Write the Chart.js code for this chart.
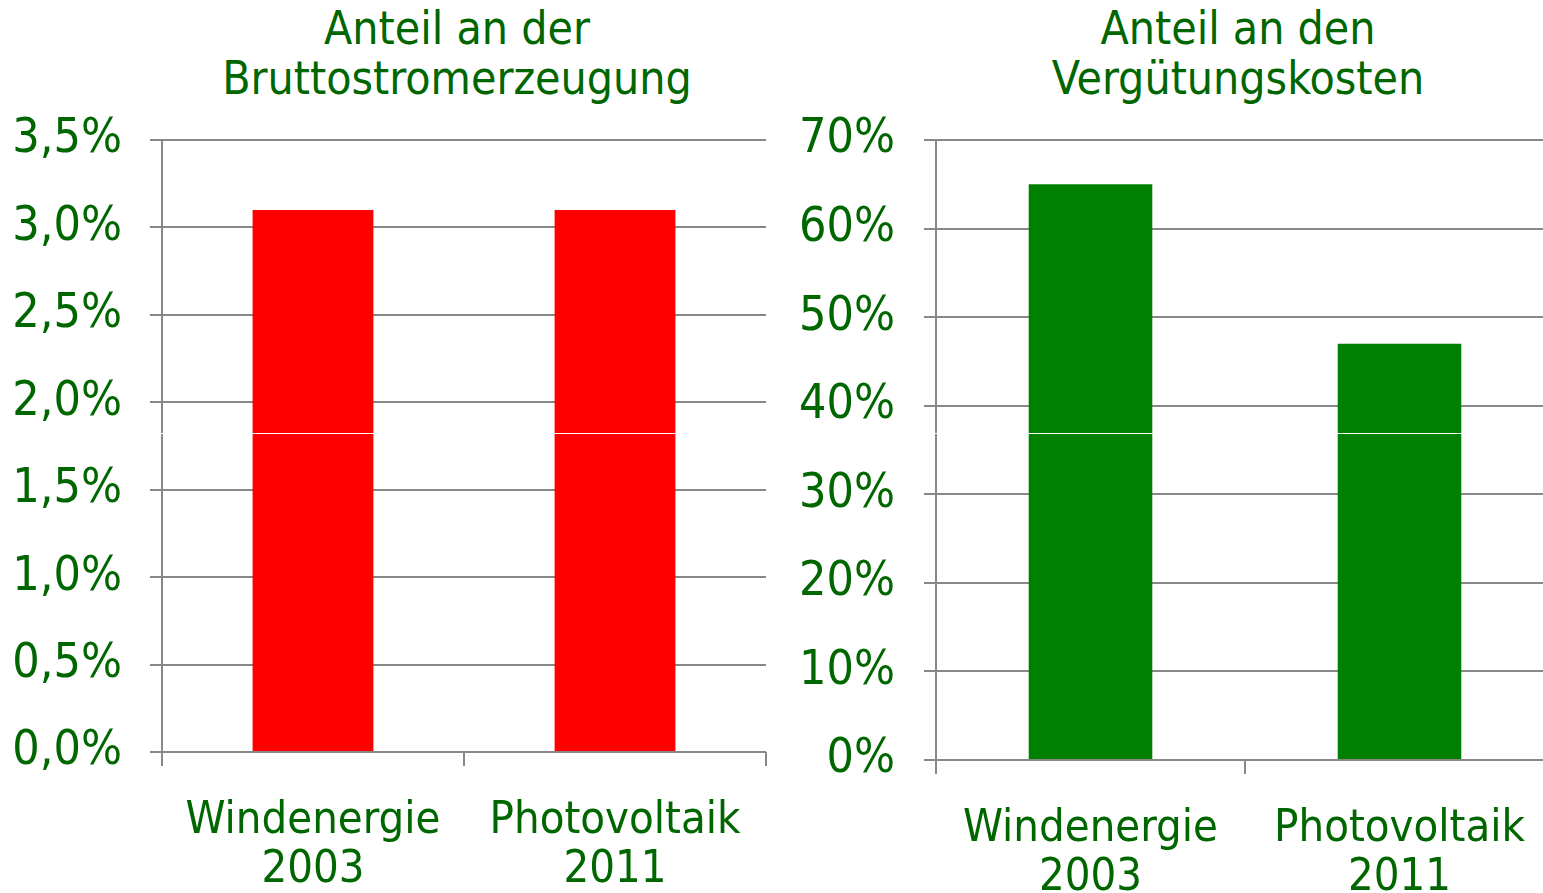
<!DOCTYPE html>
<html>
<head>
<meta charset="utf-8">
<script src="https://cdn.jsdelivr.net/npm/chart.js@4"></script>
<style>
  body { margin: 0; background: #fff; width: 1543px; height: 893px; overflow: hidden; position: relative; }
  .box { position: absolute; }
  .title { position: absolute; text-align: center; color: #006600; font-family: "DejaVu Sans Condensed", "DejaVu Sans", sans-serif; font-size: 46px; line-height: 50px; white-space: nowrap; }
  .seam { position: absolute; left: 0; top: 433px; width: 1543px; height: 1px; background: #fff; }
</style>
</head>
<body>
<div class="title" style="left:157px; width:600px; top:3px;">Anteil an der<br>Bruttostromerzeugung</div>
<div class="title" style="left:938px; width:600px; top:3px;">Anteil an den<br>Vergütungskosten</div>
<div class="box" style="left:0; top:110px; width:780px; height:783px;"><canvas id="links"></canvas></div>
<div class="box" style="left:780px; top:110px; width:774px; height:783px;"><canvas id="rechts"></canvas></div>
<div class="seam"></div>
<script>
// Daten
const kategorien = [["Windenergie", "2003"], ["Photovoltaik", "2011"]];
const anteilStrom = [3.1, 3.1];       // % Bruttostromerzeugung
const anteilKosten = [65, 47];        // % Vergütungskosten

const gruen = "#006600";
const grau = "#888888";
const fontFam = "'DejaVu Sans Condensed', 'DejaVu Sans', sans-serif";
const xSchrift = { family: fontFam, size: 45, lineHeight: 1.09 };
const ySchrift = { family: fontFam, size: 48 };

function baueChart(id, werte, farbe, maxWert, schritt, fmt, yBreite, xHoehe, padRechts, labelPad) {
  new Chart(id, {
    type: "bar",
    data: {
      labels: kategorien,
      datasets: [{
        data: werte,
        backgroundColor: farbe,
        categoryPercentage: 1,
        barPercentage: 0.4
      }]
    },
    options: {
      responsive: true,
      maintainAspectRatio: false,
      animation: false,
      layout: { padding: { top: 30, right: padRechts, left: 0, bottom: 0 } },
      plugins: { legend: { display: false }, tooltip: { enabled: false } },
      scales: {
        x: {
          grid: { offset: true, drawOnChartArea: false, drawTicks: true, tickLength: 14, color: grau, lineWidth: 2 },
          border: { display: false },
          ticks: { color: gruen, font: xSchrift, padding: 31, maxRotation: 0 },
          afterFit: function (s) { s.height = xHoehe; s.paddingLeft = 0; s.paddingRight = 0; }
        },
        y: {
          min: 0,
          max: maxWert,
          grid: { color: grau, lineWidth: 2, tickLength: 12 },
          border: { display: true, color: grau, width: 2 },
          ticks: { stepSize: schritt, color: gruen, font: ySchrift, padding: labelPad, callback: fmt },
          afterFit: function (s) { s.width = yBreite; s.paddingTop = 0; s.paddingBottom = 0; }
        }
      }
    }
  });
}

baueChart("links", anteilStrom, "#ff0000", 3.5, 0.5,
  v => v.toFixed(1).replace(".", ",") + "%", 162, 141, 14, 28);
baueChart("rechts", anteilKosten, "#008000", 70, 10,
  v => v + "%", 156, 133, 0, 29);
</script>
</body>
</html>
